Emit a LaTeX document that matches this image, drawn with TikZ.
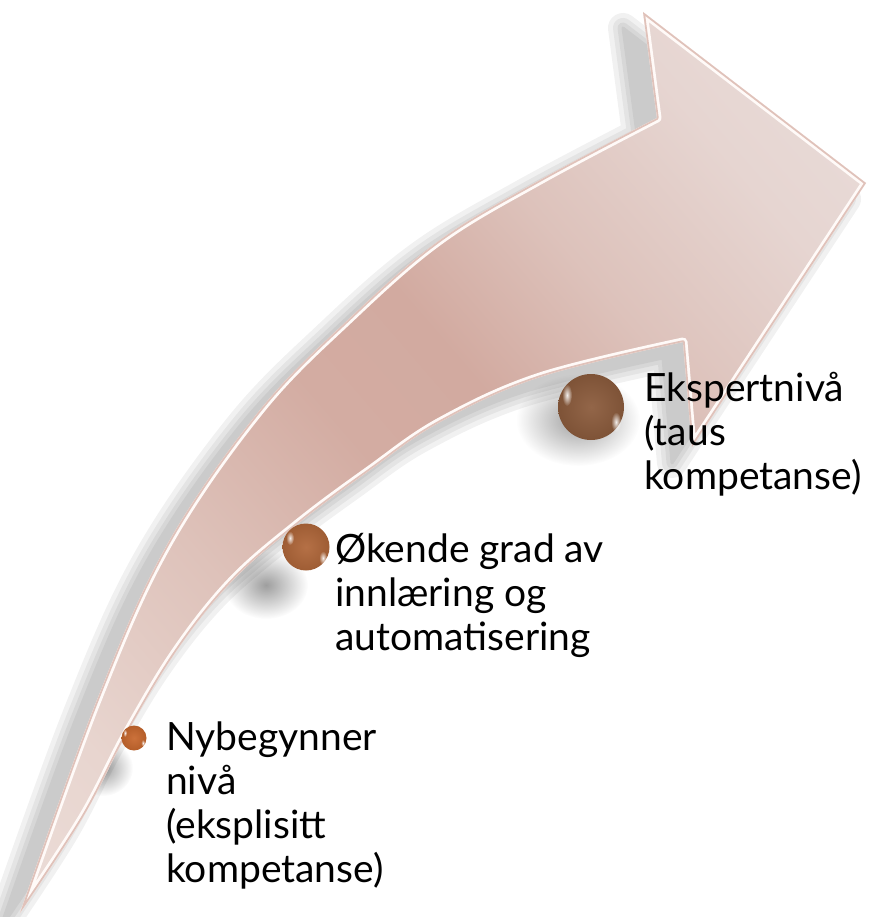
\documentclass[tikz,border=0pt]{standalone}
\usepackage{fontspec}
\setmainfont{Lato}
\usetikzlibrary{fadings}
\tikzfading[name=softblob, inner color=transparent!0, outer color=transparent!100]
\definecolor{sA}{RGB}{236,222,217}
\definecolor{sB}{RGB}{232,213,207}
\definecolor{sC}{RGB}{222,194,186}
\definecolor{sD}{RGB}{211,172,162}
\definecolor{sE}{RGB}{210,170,160}
\definecolor{sF}{RGB}{221,194,187}
\definecolor{sG}{RGB}{230,213,209}
\definecolor{sH}{RGB}{235,224,221}
\definecolor{bevel}{RGB}{255,250,248}
\definecolor{edgec}{RGB}{224,194,186}
\definecolor{ballA}{RGB}{200,104,46}
\definecolor{ballB}{RGB}{176,103,58}
\definecolor{ballC}{RGB}{140,92,61}
\pgfdeclarehorizontalshading{arrowshade}{100bp}{color(0bp)=(sA); color(25bp)=(sA); color(32.5bp)=(sB); color(40.5bp)=(sC); color(48bp)=(sD); color(53bp)=(sE); color(59bp)=(sF); color(66bp)=(sG); color(75bp)=(sH); color(100bp)=(sH)}
\def\arrowpath{plot[smooth,tension=0.6] coordinates {(20,913) (97,700) (167,545) (260,410) (350,318) (440,240) (540,180) (657,118)} -- (643,12) -- (866,183) -- (692,447) -- (683,342) -- plot[smooth,tension=0.6] coordinates {(683,342) (540,377) (440,422) (370,470) (300,522) (233,580) (177,650) (127,733) (83,817) (20,913)} -- cycle}
\tikzset{
  lbl/.style={anchor=base west, inner sep=0pt, font=\fontsize{39}{44}\selectfont},
  bead/.style={circle, inner sep=0pt, draw=none, inner color=#1!94!white, outer color=#1!90!black},
  blob/.style={black, path fading=softblob, opacity=0.38},
  shine/.style={white, path fading=softblob, opacity=0.9}
}
\begin{document}
\begin{tikzpicture}[x=1pt,y=-1pt]
\useasboundingbox (0,0) rectangle (874,917);
% soft shadows
\foreach \w in {30,20,11,3}{
  \begin{scope}[transparency group, opacity=0.055, shift={(-20,16)}]
    \filldraw[black, line width=\w pt, line join=round] \arrowpath;
  \end{scope}}
\fill[blob] (103,768) ellipse (30pt and 28pt);
\fill[blob] (266,585) ellipse (42pt and 34pt);
\fill[blob] (578,420) ellipse (62pt and 46pt);
% arrow body
\begin{scope}
  \clip \arrowpath;
  \begin{scope}[transform canvas={rotate around={40.8:(443,462)}}]
    \shade[shading=arrowshade] (-207,-188) rectangle (1093,1112);
  \end{scope}
  \draw[bevel, line width=9pt, line join=round] \arrowpath;
  \draw[edgec, line width=3.5pt, line join=round] \arrowpath;
\end{scope}
% beads
\node[bead=ballA, minimum size=25pt] (b1) at (134,738) {};
\node[bead=ballB, minimum size=47pt] (b2) at (306,547) {};
\node[bead=ballC, minimum size=66pt] (b3) at (591,407) {};
\fill[shine] (125,733) ellipse (2pt and 4pt);
\fill[shine] (143,743) ellipse (2pt and 3.5pt);
\fill[shine] (290,538) ellipse (4pt and 7pt);
\fill[shine] (323,558) ellipse (4pt and 7pt);
\fill[shine] (567,395) ellipse (5pt and 11pt);
\fill[shine] (616,422) ellipse (5pt and 10pt);
% labels
\node[lbl] (t1) at (166,750) {\begin{tabular}[t]{@{}l@{}}Nybegynner\\nivå\\(eksplisitt\\kompetanse)\end{tabular}};
\node[lbl] (t2) at (335,562) {\begin{tabular}[t]{@{}l@{}}Økende grad av\\innlæring og\\automatisering\end{tabular}};
\node[lbl] (t3) at (644,401) {\begin{tabular}[t]{@{}l@{}}Ekspertnivå\\(taus\\kompetanse)\end{tabular}};
\end{tikzpicture}
\end{document}
